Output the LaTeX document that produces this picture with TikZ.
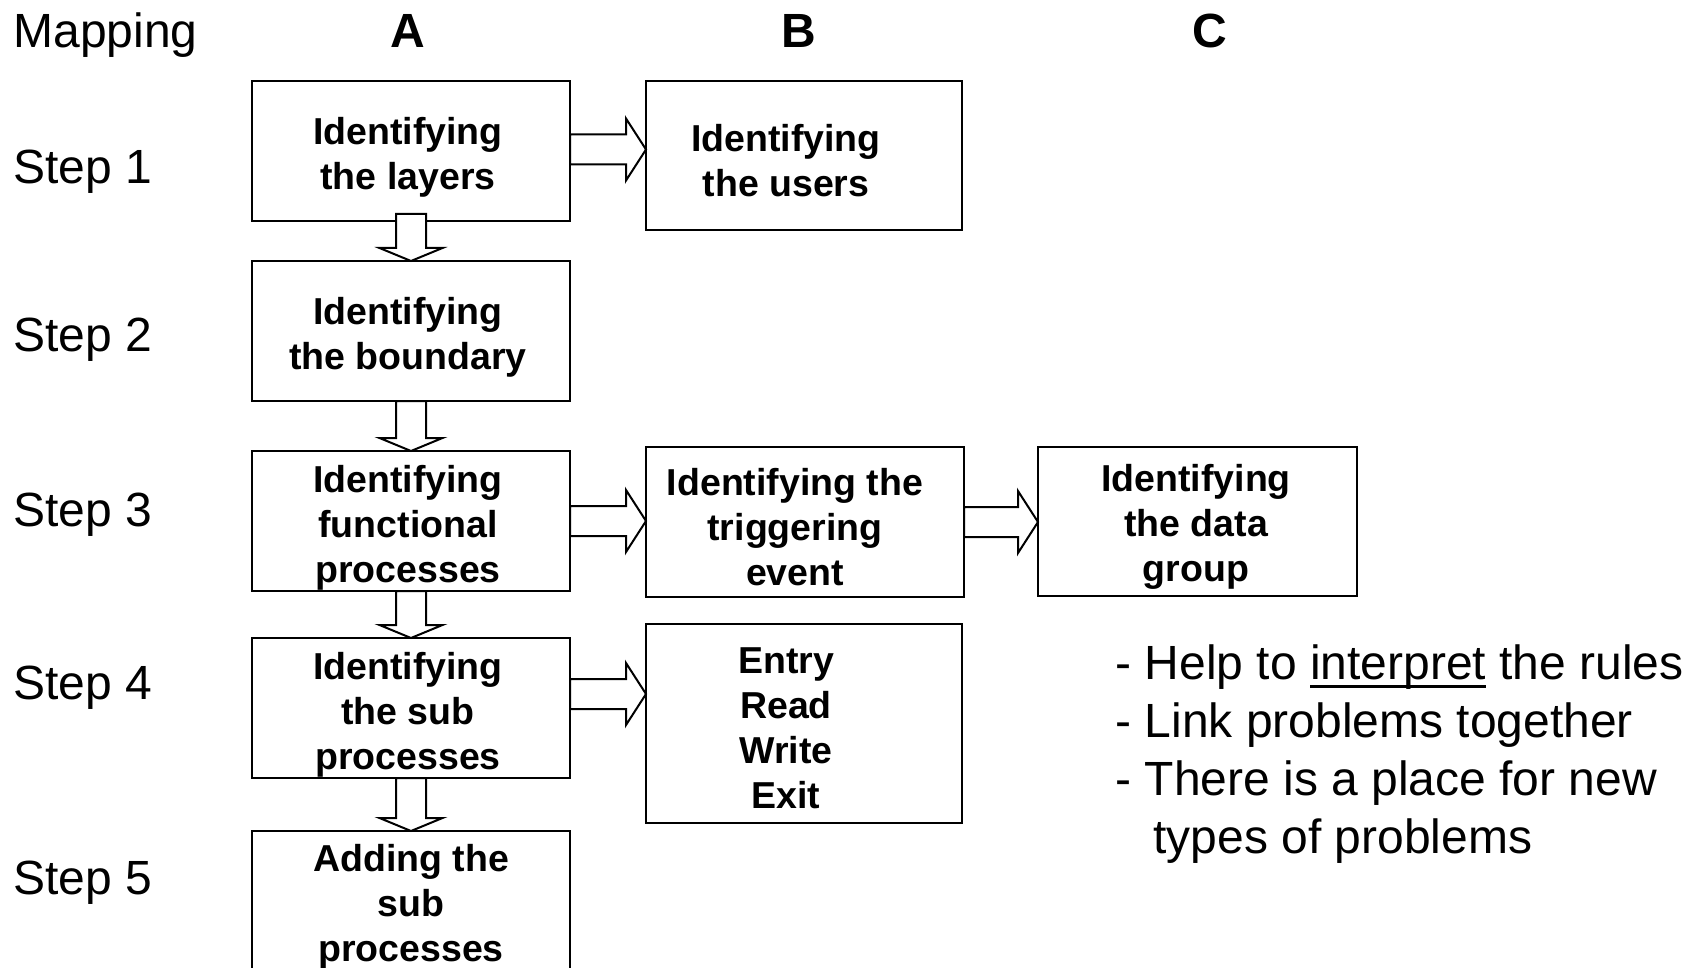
\documentclass[tikz,border=0pt]{standalone}
\usepackage{fontspec}
\setmainfont{Liberation Sans}
\usetikzlibrary{calc}

\tikzset{
  stepbox/.style={draw, line width=1pt, rectangle, inner sep=0pt, outer sep=0pt},
  boxtext/.style={align=center, inner sep=0pt, font=\bfseries\fontsize{18.75}{22.5}\selectfont},
  rowlabel/.style={anchor=base west, inner sep=0pt, font=\fontsize{24}{29}\selectfont},
  collabel/.style={anchor=base, inner sep=0pt, font=\bfseries\fontsize{24}{29}\selectfont},
  blockarrow/.style={draw, fill=white, line width=1pt, line join=miter},
}

% hollow block arrow to the right: from, to, vertical offset (px)
\newcommand{\rblock}[3]{%
  \draw[blockarrow] let \p1=($(#1.east)+(0,#3)$), \p2=(#2.west) in
    (\x1,\y1-7.5pt) -- (\x2-10pt,\y1-7.5pt) -- (\x2-10pt,\y1-15.5pt) -- (\x2,\y1)
    -- (\x2-10pt,\y1+15.5pt) -- (\x2-10pt,\y1+7.5pt) -- (\x1,\y1+7.5pt) -- cycle;}
% hollow block arrow downwards: from, to, start offset (px)
\newcommand{\dblock}[3]{%
  \draw[blockarrow] let \p1=($(#1.south)+(0,#3)$), \p2=(#2.north) in
    (\x1-7.5pt,\y1) -- (\x1-7.5pt,\y2+6.5pt) -- (\x1-15.75pt,\y2+6.5pt) -- (\x1,\y2)
    -- (\x1+15.75pt,\y2+6.5pt) -- (\x1+7.5pt,\y2+6.5pt) -- (\x1+7.5pt,\y1) -- cycle;}
% thicker underline for emphasised words
\newcommand{\ulword}[1]{\setbox0=\hbox{#1}\rlap{\rule[-4.5pt]{\wd0}{1.3pt}}\box0\relax}

\begin{document}
\begin{tikzpicture}[x=0.5pt, y=-0.5pt]
\path[use as bounding box, clip] (0,0) rectangle (1698,968);
\fill[white] (0,0) rectangle (1698,968);

% column and row headings
\node[rowlabel] (map) at (13,48) {Mapping};
\node[collabel] (colA) at (408,48) {A};
\node[collabel] (colB) at (799,48) {B};
\node[collabel] (colC) at (1210,48) {C};
\node[rowlabel] (s1) at (13,184) {Step 1};
\node[rowlabel] (s2) at (13,351) {Step 2};
\node[rowlabel] (s3) at (13,526) {Step 3};
\node[rowlabel] (s4) at (13,699) {Step 4};
\node[rowlabel] (s5) at (13,894) {Step 5};

% boxes
\node[stepbox, minimum width=159pt, minimum height=70pt] (a1) at (411,151) {};
\node[stepbox, minimum width=158pt, minimum height=74.5pt] (b1) at (804,155.5) {};
\node[stepbox, minimum width=159pt, minimum height=70pt] (a2) at (411,331) {};
\node[stepbox, minimum width=159pt, minimum height=70pt] (a3) at (411,521) {};
\node[stepbox, minimum width=159pt, minimum height=75pt] (b3) at (805,522) {};
\node[stepbox, minimum width=159.5pt, minimum height=74.5pt] (c3) at (1197.5,521.5) {};
\node[stepbox, minimum width=159pt, minimum height=70pt] (a4) at (411,708) {};
\node[stepbox, minimum width=158pt, minimum height=99.5pt] (b4) at (804,723.5) {};
\node[stepbox, minimum width=159pt, minimum height=72pt] (a5) at (411,903) {};

% box texts
\node[boxtext] (a1t) at (408,157) {Identifying\\the layers};
\node[boxtext] (b1t) at (786,161) {Identifying\\the users};
\node[boxtext] (a2t) at (408,337) {Identifying\\the boundary};
\node[boxtext] (a3t) at (408,528) {Identifying\\functional\\processes};
\node[boxtext] (b3t) at (795,527) {Identifying the\\triggering\\event};
\node[boxtext] (c3t) at (1196,527) {Identifying\\the data\\group};
\node[boxtext] (a4t) at (408,715) {Identifying\\the sub\\processes};
\node[boxtext] (b4t) at (786,728) {Entry\\Read\\Write\\Exit};
\node[boxtext] (a5t) at (411,907) {Adding the\\sub\\processes};

% connectors
\rblock{a1}{b1}{-1.5}
\rblock{a3}{b3}{0}
\rblock{b3}{c3}{0}
\rblock{a4}{b4}{-14}
\dblock{a1}{a2}{-7}
\dblock{a2}{a3}{0}
\dblock{a3}{a4}{0}
\dblock{a4}{a5}{0}

% remarks
\node[anchor=base west, inner sep=0pt, align=left, font=\fontsize{24}{29}\selectfont] (notes) at (1115,853)
  {- Help to \ulword{interpret} the rules\\
   - Link problems together\\
   - There is a place for new\\
   \hspace*{19pt}types of problems};
\end{tikzpicture}
\end{document}
